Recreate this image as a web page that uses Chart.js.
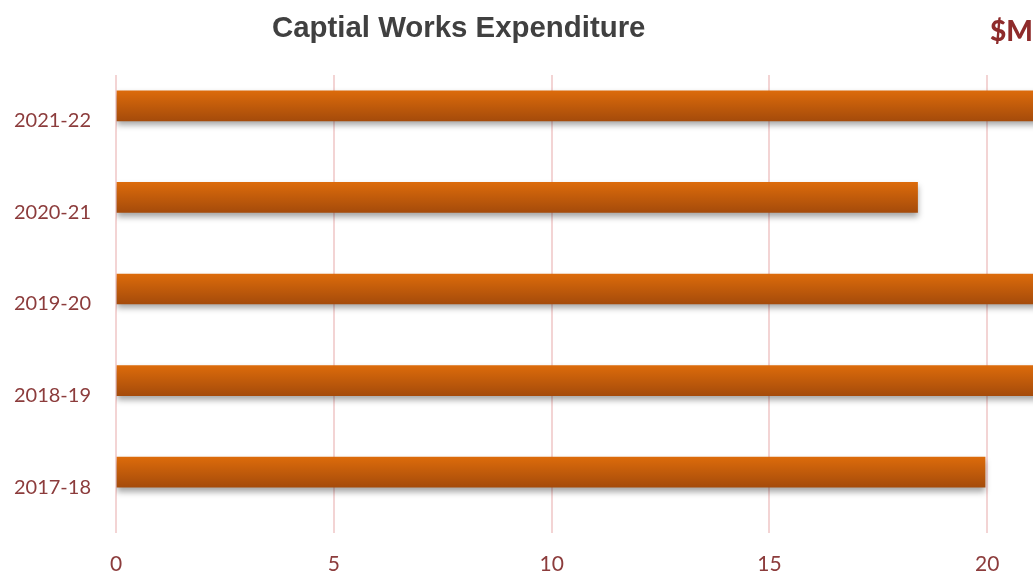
<!DOCTYPE html>
<html>
<head>
<meta charset="utf-8">
<script src="https://cdn.jsdelivr.net/npm/chart.js@4"></script>
<style>
  html, body { margin: 0; padding: 0; background: #fff; overflow: hidden; }
  #wrap { position: relative; width: 1033px; height: 574px; }
  #title {
    position: absolute; left: 272px; top: 10px;
    font: bold 29.4px "Liberation Sans", Arial, sans-serif; color: #404040;
    white-space: nowrap;
  }
  #unit {
    position: absolute; left: 990px; top: 13px;
    font: 900 28px Lato, "Open Sans", sans-serif; color: #8e2b2b;
    white-space: nowrap;
  }
</style>
</head>
<body>
<div id="wrap">
  <canvas id="myChart" width="1033" height="574"></canvas>
  <div id="title">Captial Works Expenditure</div>
  <div id="unit">$M</div>
</div>
<script>
// chart data
const years = ["2021-22", "2020-21", "2019-20", "2018-19", "2017-18"];
const spend = [22.5, 18.4, 23.0, 21.8, 19.95];
const xTicks = [0, 5, 10, 15, 20];
const xMax = 21.05;

const colors = {
    orange: { top: "#dc6b0b", bottom: "#a54b0b" },
    grid: "#f3d4d4",
    label: "#8c3c3c"
};

// soft shadow under the bars
const barShadow = {
    id: "barShadow",
    beforeDatasetDraw(chart, args) {
        if (args.index !== 0) return;
        const ctx = chart.ctx;
        ctx.save();
        ctx.shadowColor = "rgba(0,0,0,0.35)";
        ctx.shadowBlur = 6;
        ctx.shadowOffsetY = 4;
    },
    afterDatasetDraw(chart, args) {
        if (args.index !== 0) return;
        chart.ctx.restore();
    }
};

const ctx = document.getElementById("myChart").getContext("2d");

new Chart(ctx, {
    type: "bar",
    data: {
        labels: years,
        datasets: [
            {
                label: "Expenditure",
                data: spend,
                barThickness: 30,
                borderWidth: 0,
                backgroundColor: (c) => {
                    const y = c.chart.scales && c.chart.scales.y;
                    if (!y || c.dataIndex === undefined) return colors.orange.top;
                    const p = y.getPixelForValue(c.dataIndex);
                    if (!Number.isFinite(p)) return colors.orange.top;
                    const g = c.chart.ctx.createLinearGradient(0, p - 30, 0, p);
                    g.addColorStop(0, colors.orange.top);
                    g.addColorStop(1, colors.orange.bottom);
                    return g;
                }
            },
            {
                // empty slot so the bar sits above the category centre
                label: "spacer",
                data: [0, 0, 0, 0, 0],
                barThickness: 30,
                backgroundColor: "rgba(0,0,0,0)",
                borderWidth: 0
            }
        ]
    },
    options: {
        indexAxis: "y",
        responsive: false,
        animation: false,
        layout: { padding: { top: 75, right: 0, left: 0, bottom: 0 } },
        plugins: {
            legend: { display: false },
            tooltip: { enabled: false }
        },
        scales: {
            x: {
                min: 0,
                max: xMax,
                afterBuildTicks: (s) => { s.ticks = xTicks.map(v => ({ value: v })); },
                grid: { color: colors.grid, lineWidth: 2, drawTicks: false },
                border: { display: false },
                ticks: {
                    color: colors.label,
                    padding: 19,
                    font: { family: "Lato", size: 21 }
                },
                afterFit: (s) => { s.height = 41; }
            },
            y: {
                grid: { display: false },
                border: { display: false },
                ticks: {
                    color: colors.label,
                    padding: 17,
                    font: { family: "Lato", size: 20 }
                },
                afterFit: (s) => { s.width = 116; }
            }
        }
    },
    plugins: [barShadow]
});
</script>
</body>
</html>
